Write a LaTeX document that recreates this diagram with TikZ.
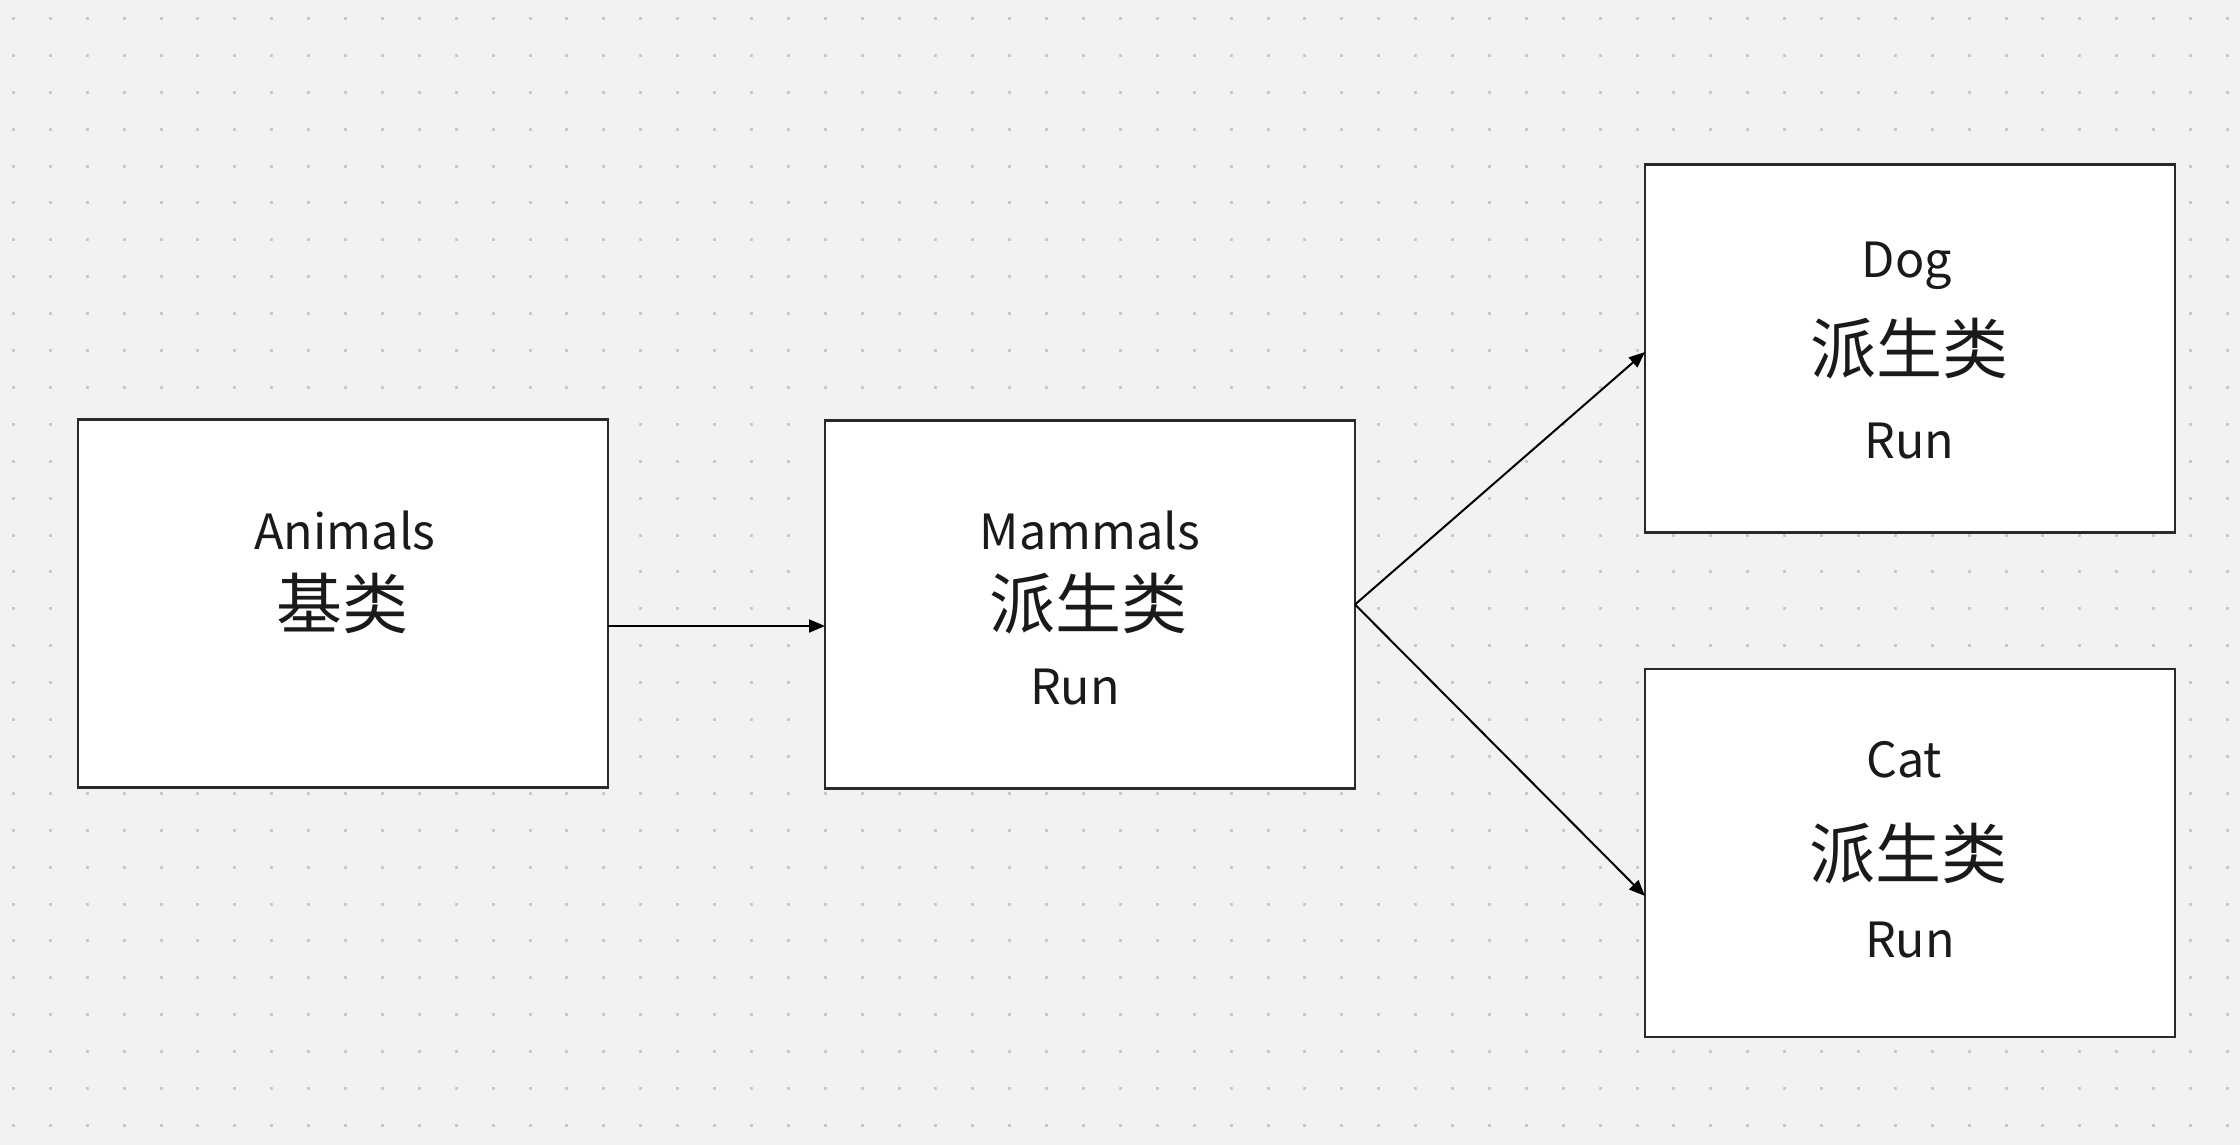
\documentclass[tikz,border=0pt]{standalone}
\usepackage{fontspec}
\setmainfont{Noto Sans CJK SC}
\usetikzlibrary{arrows.meta}
\definecolor{bgc}{HTML}{F2F2F4}
\definecolor{dotc}{HTML}{C9C9CD}
\definecolor{edgec}{HTML}{2A2A2A}
\definecolor{txtc}{HTML}{1A1A1A}
\tikzset{
  box/.style={draw=edgec, line width=2.8pt, fill=white, minimum width=530pt, minimum height=368pt, inner sep=0pt, outer sep=0pt},
  lat/.style={anchor=base, inner sep=0pt, text=txtc, font=\fontsize{48.5}{48.5}\selectfont},
  cjk/.style={anchor=center, inner sep=0pt, text=txtc, font=\fontsize{66}{66}\selectfont},
  conn/.style={draw=black, line width=2pt, -{Triangle[length=16pt, width=13pt]}}
}
\begin{document}
\begin{tikzpicture}[x=1pt, y=-1pt]
\fill[bgc] (0,0) rectangle (2240,1145);
\useasboundingbox (0,0) rectangle (2240,1145);
\foreach \i in {0,...,60} {
  \foreach \j in {0,...,30} {
    \fill[dotc] ({13.4+36.9*\i-1.5},{18.4+36.9*\j-1.5}) rectangle ++(3,3);
  }
}
% boxes
\node[box] (animals) at (343,603.5) {};
\node[box] (mammals) at (1090,604.5) {};
\node[box] (dog) at (1910,348.5) {};
\node[box] (cat) at (1910,853) {};
% texts
\node[lat] (t1a) at (345,549) {Animals};
\node[cjk] (t1b) at (342,603) {基类};
\node[lat] (t2a) at (1090,549) {Mammals};
\node[cjk] (t2b) at (1088,603.5) {派生类};
\node[lat] (t2c) at (1075,704) {Run};
\node[lat] (t3a) at (1907,277) {Dog};
\node[cjk] (t3b) at (1909.5,348.8) {派生类};
\node[lat] (t3c) at (1909.6,458) {Run};
\node[lat] (t4a) at (1904,777) {Cat};
\node[cjk] (t4b) at (1908,854) {派生类};
\node[lat] (t4c) at (1910,957) {Run};
% connectors
\coordinate (a1) at ([yshift=-22.5pt]animals.east);
\coordinate (m1) at ([yshift=-21.5pt]mammals.west);
\draw[conn] (a1) -- (m1);
\coordinate (dogin) at ([yshift=-3.5pt]dog.west);
\coordinate (catin) at ([yshift=-43pt]cat.west);
\draw[conn] (mammals.east) -- (dogin);
\draw[conn] (mammals.east) -- (catin);
\end{tikzpicture}
\end{document}
